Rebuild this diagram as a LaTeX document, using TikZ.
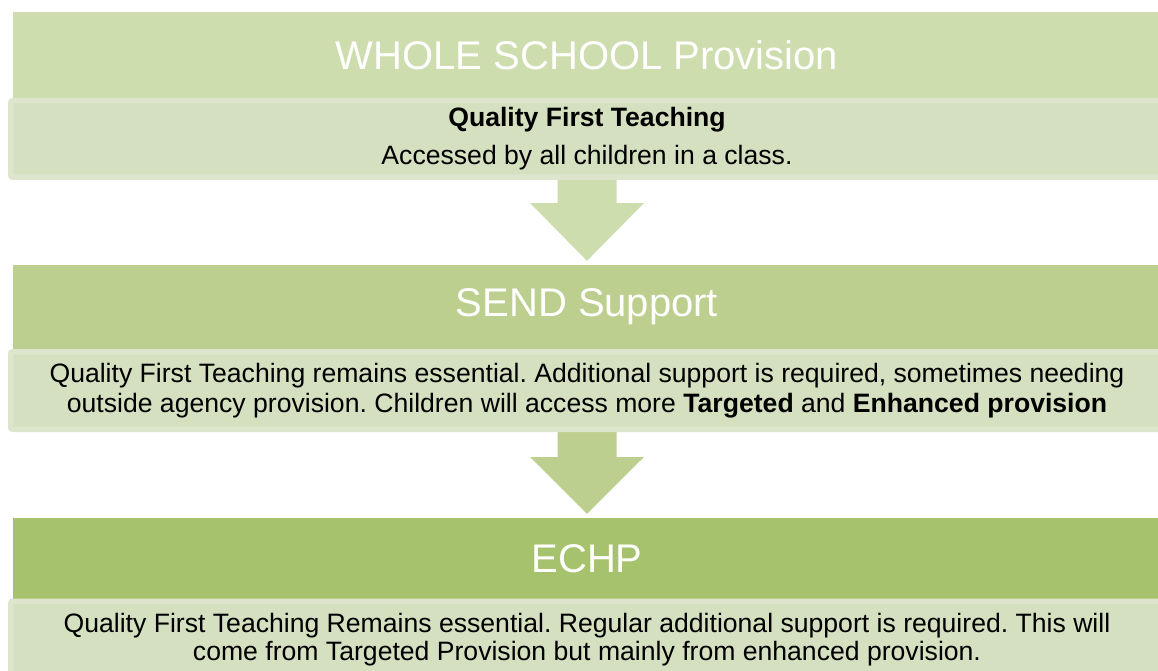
\documentclass[tikz,border=0pt]{standalone}
\usepackage{fontspec}
\setmainfont{Liberation Sans}
\usetikzlibrary{calc,backgrounds}
\frenchspacing
\definecolor{hcolA}{HTML}{CEDDAE}
\definecolor{hcolB}{HTML}{BDCF8E}
\definecolor{hcolC}{HTML}{A7C26C}
\definecolor{subfill}{HTML}{D4E0BF}
\definecolor{subedge}{HTML}{DDE6CD}
\tikzset{
  headbox/.style={minimum width=1148pt, inner sep=0pt, text=white,
    font=\fontsize{40}{46}\selectfont},
  subbox/.style={fill=subfill, draw=subedge, line width=5.5pt, rounded corners=2pt,
    minimum width=1152.5pt, inner sep=0pt, align=center, text=black,
    font=\fontsize{26.6}{30}\selectfont},
}
\begin{document}
\begin{tikzpicture}[x=1pt,y=-1pt]
\useasboundingbox (0,0) rectangle (1158,671);
% headers
\node[headbox, fill=hcolA, minimum height=86pt] (head1) at (587,55) {WHOLE SCHOOL Provision};
\node[subbox, minimum height=76.5pt] (sub1) at (587,139)
  {\textbf{Quality First Teaching}\\[8pt]Accessed by all children in a class.};
\node[headbox, fill=hcolB, minimum height=84pt] (head2) at (587,307) {SEND Support};
\node[subbox, minimum height=77.5pt] (sub2) at (587,390.5)
  {Quality First Teaching remains essential. Additional support is required, sometimes needing\\
   outside agency provision. Children will access more \textbf{Targeted} and \textbf{Enhanced provision}};
\node[headbox, fill=hcolC, minimum height=81pt] (head3) at (587,558.5) {ECHP};
\node[subbox, minimum height=77.5pt] (sub3) at (587,640)
  {Quality First Teaching Remains essential. Regular additional support is required. This will\\[-2pt]
   come from Targeted Provision but mainly from enhanced provision.};
% arrows
\begin{scope}[on background layer]
\fill[hcolA] ($(sub1.south)+(-29.5,-8)$) -- ($(sub1.south)+(-29.5,23)$) -- ($(sub1.south)+(-57,23)$)
  -- ($(head2.north)+(0,-4)$) -- ($(sub1.south)+(57,23)$) -- ($(sub1.south)+(29.5,23)$)
  -- ($(sub1.south)+(29.5,-8)$) -- cycle;
\fill[hcolB] ($(sub2.south)+(-29.5,-8)$) -- ($(sub2.south)+(-29.5,25)$) -- ($(sub2.south)+(-57,25)$)
  -- ($(head3.north)+(0,-4)$) -- ($(sub2.south)+(57,25)$) -- ($(sub2.south)+(29.5,25)$)
  -- ($(sub2.south)+(29.5,-8)$) -- cycle;
\end{scope}
\end{tikzpicture}
\end{document}
